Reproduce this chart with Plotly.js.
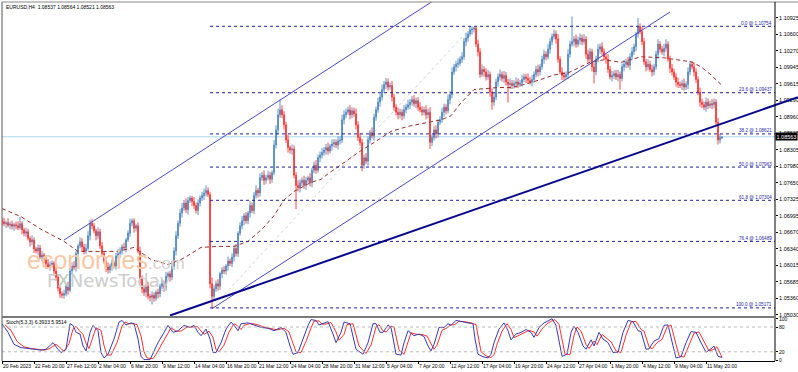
<!DOCTYPE html>
<html><head><meta charset="utf-8">
<script src="https://cdn.plot.ly/plotly-3.0.1.min.js"></script>
<style>html,body{margin:0;padding:0;background:#fff;}#chart{width:798px;height:372px;}</style>
</head><body><div id="chart"></div>
<script>
// ---------- DATA ----------
const headerText = "EURUSD,H4  1.08537 1.08564 1.08521 1.08563";
const stochText = "Stoch(5,3,3) 6.3933 5.9514";
// candle prices in pips above 1.0000 (688 -> 1.0688)
const openPips = [
690,688,684,686,681,683,679,682,680,676,
684,672,665,668,655,648,652,634,630,636,
618,622,612,605,598,602,606,590,578,556,
545,542,545,560,552,590,600,598,625,640,
648,638,630,635,660,685,680,670,660,668,
640,625,610,598,592,600,606,600,620,625,
630,638,636,652,665,685,690,675,680,630,
575,555,548,560,540,538,542,536,548,545,
560,565,558,580,585,578,600,630,660,685,
705,715,725,712,730,735,728,720,710,725,
735,740,745,750,742,565,540,555,565,560,
585,592,590,600,610,605,618,635,625,665,
680,690,700,690,705,720,710,740,750,745,
775,780,770,775,780,772,785,840,870,900,
910,900,880,850,835,830,832,780,760,755,
765,770,760,770,775,765,790,800,790,815,
820,825,830,835,828,838,842,845,840,848,
850,890,900,905,910,900,908,902,880,855,
845,800,815,808,850,865,858,895,910,925,
935,950,960,965,955,958,935,915,905,900,
905,898,910,915,920,925,930,922,928,915,
910,905,910,900,905,845,855,870,862,885,
890,905,915,908,930,940,985,995,1000,1002,
1010,1015,1045,1052,1060,1068,1070,1072,1040,1025,
980,990,985,975,980,945,925,935,965,975,
980,972,978,965,960,962,958,962,965,960,
963,970,975,972,968,965,970,980,990,985,
995,1010,1020,1015,1030,1045,1055,1060,1050,1010,
985,978,975,980,1020,1040,1045,1050,1040,1048,
1052,1045,1050,1020,1010,1025,995,985,1010,1030,
1035,1025,1015,1010,990,975,978,982,975,980,
972,995,1000,1005,998,1015,1025,1035,1060,1075,
1065,1045,1005,995,1000,990,985,995,1020,1040,
1030,1025,1032,1040,1010,992,985,975,965,960,
958,962,955,960,985,1000,995,985,970,945,
925,920,915,925,918,922,920,925,885,850,
853.7];
const closePips = [
688,684,686,681,683,679,682,680,676,684,
672,665,668,655,648,652,634,630,636,618,
622,612,605,598,602,606,590,578,556,545,
542,545,560,552,590,600,598,625,640,648,
638,630,635,660,685,680,670,660,668,640,
625,610,598,592,600,606,600,620,625,630,
638,636,652,665,685,690,675,680,630,575,
555,548,560,540,538,542,536,548,545,560,
565,558,580,585,578,600,630,660,685,705,
715,725,712,730,735,728,720,710,725,735,
740,745,750,742,565,540,555,565,560,585,
592,590,600,610,605,618,635,625,665,680,
690,700,690,705,720,710,740,750,745,775,
780,770,775,780,772,785,840,870,900,910,
900,880,850,835,830,832,780,760,755,765,
770,760,770,775,765,790,800,790,815,820,
825,830,835,828,838,842,845,840,848,850,
890,900,905,910,900,908,902,880,855,845,
800,815,808,850,865,858,895,910,925,935,
950,960,965,955,958,935,915,905,900,905,
898,910,915,920,925,930,922,928,915,910,
905,910,900,905,845,855,870,862,885,890,
905,915,908,930,940,985,995,1000,1002,1010,
1015,1045,1052,1060,1068,1070,1072,1040,1025,980,
990,985,975,980,945,925,935,965,975,980,
972,978,965,960,962,958,962,965,960,963,
970,975,972,968,965,970,980,990,985,995,
1010,1020,1015,1030,1045,1055,1060,1050,1010,985,
978,975,980,1020,1040,1045,1050,1040,1048,1052,
1045,1050,1020,1010,1025,995,985,1010,1030,1035,
1025,1015,1010,990,975,978,982,975,980,972,
995,1000,1005,998,1015,1025,1035,1060,1075,1065,
1045,1005,995,1000,990,985,995,1020,1040,1030,
1025,1032,1040,1010,992,985,975,965,960,958,
962,955,960,985,1000,995,985,970,945,925,
920,915,925,918,922,920,925,885,850,855,
856.3];
// wick lengths (pips) above the body top / below the body bottom
const upperWickPips = [
6,8,4,9,5,7,4,6,9,14, 5,4,8,6,4,9,5,4,7,6, 8,4,6,9,7,5,4,8,6,4, 5,8,4,9,6,7,10,5,4,9,
7,6,9,10,7,8,5,4,9,6, 8,4,6,9,5,7,4,6,9,7, 5,8,4,6,9,4,5,4,7,9, 6,7,4,9,5,8,6,4,7,5,
9,6,8,4,6,10,7,9,5,8, 10,6,9,7,5,4,9,6,7,5, 7,9,10,6,5,12,7,6,9,4, 6,8,4,9,5,7,6,9,4,7,
9,5,7,4,9,6,7,10,5,9, 7,10,6,9,7,5,10,9,12,20, 9,7,6,10,4,9,7,6,10,7, 6,9,7,4,9,5,7,10,6,7,
9,6,7,10,4,9,7,6,9,7, 10,9,7,6,9,7,6,10,7,9, 7,6,9,7,5,10,7,6,9,7, 10,7,8,7,6,9,7,6,9,7,
6,9,7,10,6,7,9,6,7,10, 7,6,9,7,10,6,7,9,6,7, 9,7,6,10,7,9,6,7,10,6, 9,7,10,6,7,5.4,2,3,9,7,
10,6,7,9,6,7,9,6,7,10, 6,9,7,6,10,7,6,9,7,6, 9,7,6,10,7,9,6,7,9,6, 7,9,6,10,7,6,9,7,10,6,
9,7,6,10,7,50,6,9,7,9, 7,10,6,9,7,6,9,7,10,6, 9,7,6,10,7,9,6,7,9,6, 7,9,6,10,7,9,6,4,17,6,
9,7,6,10,7,9,6,7,10,6, 7,9,10,6,7,9,6,7,9,6, 7,10,6,9,7,6,9,7,6,9, 7,6,9,7,6,9,7,6,9,7,
0.1];
const lowerWickPips = [
7,5,9,4,8,6,9,7,5,4, 9,6,7,4,9,6,8,5,9,4, 8,6,9,4,7,5,9,7,6,8, 6,7,5,9,4,7,6,9,7,5,
9,7,6,4,9,7,5,9,7,6, 7,5,10,7,6,9,4,7,5,9, 7,5,9,4,7,6,9,7,5,10, 9,7,10,6,8,14,7,5,9,7,
6,9,7,4,9,6,7,9,6,7, 9,6,7,10,5,9,7,6,9,7, 6,9,7,5,9,22.9,8,6,9,7, 9,6,7,9,5,7,9,6,7,5,
7,9,6,7,9,5,7,6,9,7, 6,9,7,5,9,7,5,7,9,6, 7,9,6,10,7,9,6,47,7,9, 6,7,9,5,7,9,6,7,5,9,
7,6,9,7,5,9,7,6,9,7, 6,9,7,5,9,7,6,9,7,6, 12,7,6,9,7,5,9,7,6,9, 7,6,9,7,5,9,7,6,9,7,
9,6,7,5,9,7,6,9,7,5, 7,6,9,7,13,7,6,9,7,5, 6,9,7,5,9,7,6,9,7,5, 7,6,9,7,5,9,7,6,9,7,
5,9,7,6,9,15,7,6,9,7, 6,9,7,36,9,7,6,9,7,5, 7,6,9,7,5,9,7,6,9,7, 6,9,7,5,9,7,6,9,7,5,
9,7,6,9,7,5,9,7,6,9, 7,6,9,7,5,9,23,7,6,9, 7,6,9,7,5,9,7,6,9,22, 6,9,7,5,9,7,6,9,7,5,
7,6,9,7,5,9,7,6,9,7, 6,9,7,5,9,7,6,9,7,5, 9,7,6,9,7,5,9,7,6,9, 7,6,9,7,5,9,7,6,9,7,
1.6];
const timeLabelBars = [0,16,32,48,64,80,96,112,128,144,160,176,192,208,224,240,256,272,288,304,320,336,352];
const timeLabels = ["20 Feb 2023","22 Feb 20:00","27 Feb 12:00","2 Mar 04:00","6 Mar 20:00","9 Mar 12:00",
  "14 Mar 04:00","16 Mar 20:00","21 Mar 12:00","24 Mar 04:00","28 Mar 20:00","31 Mar 12:00","5 Apr 04:00",
  "7 Apr 20:00","12 Apr 12:00","17 Apr 04:00","19 Apr 20:00","24 Apr 12:00","27 Apr 04:00","1 May 20:00",
  "4 May 12:00","9 May 04:00","11 May 20:00"];
const priceTicks = [1.10925,1.10600,1.10270,1.09945,1.09615,1.09290,1.08960,1.08635,1.08305,1.07980,
  1.07650,1.07325,1.06995,1.06670,1.06340,1.06015,1.05685,1.05360,1.05030];
// moving average (dashed) read at sample bars
const maBars = [0,9.5,19.5,31,38,49.5,58,66,74.5,83,89.5,93,99.5,108,116,123,130.5,136,141,146,154.5,159.5,163,171,178,186,194.5,
  203,213,219.5,224.5,229.5,236,241,248,254.5,261,269.5,276,283,289.5,294.5,301,309.5,319.5,331,344.5,349.5,354.5,359.5];
const maPrices = [1.0714,1.0698,1.0673,1.0649,1.0629,1.0629,1.0629,1.0637,1.0613,1.0603,1.0613,1.0621,1.0637,1.0639,1.0639,
  1.0649,1.0675,1.0700,1.0731,1.0748,1.0766,1.0772,1.0783,1.0805,1.0825,1.0845,1.0867,1.0877,1.0884,1.0890,1.0898,1.0924,1.0950,1.0952,
  1.0954,1.0954,1.0960,1.0970,1.0979,1.0983,1.0995,1.1005,1.1009,1.1004,1.1015,1.1013,1.1005,1.0995,1.0979,1.0960];
// stochastic %K (blue) and %D (red)
const stochKBars = [0,3,6,9.5,13,16,19.5,22,24,25.5, 28,29.5,32,34,35.5,37,39,40.5,42,44, 45.5,48,49.5,51,53,56,58.5,60,62,64.5,
  66,68,69.5,71,74,75.5,78,81,83,85.5, 88,91,94,96,98,99.5,102,104,105.5,107, 109.5,112,114.5,116,118,119.5,123,126,129.5,133,
  136,139.5,142,144,145.5,148,150.5,153,154.5,157, 158.5,160.5,163,165.5,167,169.5,171,174,175.5,177, 180.5,183,185.5,187,189,190.5,193,194.5,197,199.5,
  201,203,206,208.5,211,213,214.5,216,218.5,221, 223,224.5,227,229.5,233,235.5,236.5,238,240.5,243, 244.5,246,248.5,251,253,254.5,257,259.5,262,264.5,
  266,268.5,271,273.5,275,277,278.5,280,282.5,284.5, 286,288,290.5,292,294.5,296,298.5,300.5,303,305.5, 308,310.5,313,315.5,318,319.5,322,323.5,326,328.5,
  331,333,335.5,337,339.5,342,344.5,347,349.5,352, 354.5,356,358,360];
const stochK = [88,67,38,30,28,26,24,26,34,42, 26,18,26,88,84,67,63,34,22,67, 84,71,18,5,14,51,92,96,85,90,
  88,51,9,1,1,18,42,67,84,67, 71,84,79,84,67,59,75,51,18,18, 42,75,92,84,71,88,90,85,79,77,
  71,79,67,34,14,18,51,84,98,96, 85,88,93,63,42,67,92,88,59,26, 14,42,88,88,67,67,85,79,14,12,
  42,71,59,63,57,34,22,38,79,79, 88,84,96,93,90,88,51,14,8,5, 14,42,75,90,71,49,63,67,74,67,
  55,79,90,96,100,84,42,9,14,67, 82,67,34,26,49,34,67,51,42,18, 19,67,96,93,71,69,26,27,46,52,
  84,85,34,5,8,42,69,67,42,19, 27,34,9,6.3933];
const stochDBars = [1.5,4.5,7.5,11,14.5,17.5,21,23.5,25.5,27, 29.5,31,33.5,35.5,37,38.5,40.5,42,43.5,45.5,
  47,49.5,51,52.5,54.5,57.5,60,61.5,63.5,66, 67.5,69.5,71,72.5,75.5,77,79.5,82.5,84.5,87, 89.5,92.5,95.5,97.5,99.5,101,103.5,105.5,107,108.5,
  111,113.5,116,117.5,119.5,121,124.5,127.5,131,134.5, 137.5,141,143.5,145.5,147,149.5,152,154.5,156,158.5, 160,162,164.5,167,168.5,171,172.5,175.5,177,178.5,
  182,184.5,187,188.5,190.5,192,194.5,196,198.5,201, 202.5,204.5,207.5,210,212.5,214.5,216,217.5,220,222.5, 224.5,226,228.5,231,234.5,237,238,239.5,242,244.5,
  246,247.5,250,252.5,254.5,256,258.5,261,263.5,266, 267.5,270,272.5,275,276.5,278.5,280,281.5,284,286, 287.5,289.5,292,293.5,296,297.5,300,302,304.5,307,
  309.5,312,314.5,317,319.5,321,323.5,325,327.5,330, 332.5,334.5,337,338.5,341,343.5,346,348.5,351,353.5, 356,357.5,359.5,360];
const stochD = [85,72,45,32,28,26,24,27,33,38, 28,20,40,75,82,72,62,40,28,58, 78,72,35,12,12,42,82,92,88,88,
  86,58,20,5,3,14,36,60,78,70, 70,80,80,82,70,62,70,55,25,20, 36,68,88,84,74,84,89,86,80,77, 73,77,68,40,20,18,45,78,94,95,
  87,87,91,68,48,62,86,88,64,34, 16,36,80,86,70,68,82,80,24,14, 36,66,62,62,58,38,26,36,72,78, 86,85,94,93,90,86,56,20,10,6,
  13,38,70,88,74,54,60,66,72,68, 58,75,88,95,98,86,48,14,13,60, 80,70,38,28,46,37,62,53,44,22, 18,60,92,94,74,70,32,27,42,50,
  80,85,40,10,7,36,65,68,46,22, 26,32,12,5.9514];
const stochLevels = [20, 80];
const stochTicks = [0, 20, 80, 100];
// Fibonacci retracement
const fibLevelNames = ["0.0","23.6","38.2","50.0","61.8","76.4","100.0"];
const fibPrices = [1.10754,1.09437,1.08621,1.07963,1.07304,1.06489,1.05171];
const fibStartBar = 104;
const fibDiagonal = {bars:[105,235], prices:[1.05171,1.10754]};
// drawn lines
const channelUpper = {bars:[31,230], prices:[1.06517,1.11629]};
const channelLower = {bars:[105,334], prices:[1.05155,1.11038]};
const trendLine = {bars:[84,398], prices:[1.0502,1.0935]};
const bidPrice = 1.08563;

// ---------- BUILD ----------
const toPrice = p => 1 + p / 10000;
const bars = closePips.map((_, i) => i);
const O = openPips.map(toPrice), C = closePips.map(toPrice);
const Hh = bars.map(i => toPrice(Math.max(openPips[i], closePips[i]) + upperWickPips[i]));
const Ll = bars.map(i => toPrice(Math.min(openPips[i], closePips[i]) - lowerWickPips[i]));

const FONT = "Liberation Sans, Arial, sans-serif";
const axisX = 0.97111;   // price-scale line position (paper)
const leftBar = -0.01;
const lastBarRight = 386.49;

const traces = [
  {type:'candlestick', x:bars, open:O, high:Hh, low:Ll, close:C, xaxis:'x', yaxis:'y',
   increasing:{line:{color:'#3A78B8', width:0.8}, fillcolor:'#3A78B8'},
   decreasing:{line:{color:'#FF1A1A', width:0.8}, fillcolor:'#FF1A1A'},
   whiskerwidth:0, hoverinfo:'skip', showlegend:false},
  {type:'scatter', mode:'lines', x:maBars, y:maPrices, xaxis:'x', yaxis:'y',
   line:{color:'#9B2C2C', width:1, dash:'4px,3px'}, hoverinfo:'skip', showlegend:false},
  {type:'scatter', mode:'lines', x:stochDBars, y:stochD, xaxis:'x2', yaxis:'y2',
   line:{color:'#FF3030', width:1}, hoverinfo:'skip', showlegend:false},
  {type:'scatter', mode:'lines', x:stochKBars, y:stochK, xaxis:'x2', yaxis:'y2',
   line:{color:'#3A3AAE', width:1}, hoverinfo:'skip', showlegend:false}
];

const shapes = [];
shapes.push({type:'line', xref:'x', yref:'y', x0:leftBar, x1:lastBarRight, y0:bidPrice, y1:bidPrice, line:{color:'#A9D6EE', width:1}, layer:'below'});
shapes.push({type:'line', xref:'x', yref:'y', x0:fibDiagonal.bars[0], x1:fibDiagonal.bars[1], y0:fibDiagonal.prices[0], y1:fibDiagonal.prices[1], line:{color:'#D4D4D4', width:1, dash:'dot'}, layer:'below'});
fibPrices.forEach(p => shapes.push({type:'line', xref:'x', yref:'y', x0:fibStartBar, x1:lastBarRight, y0:p, y1:p, line:{color:'#1E1E9E', width:1, dash:'dot'}}));
[channelUpper, channelLower].forEach(c => shapes.push({type:'line', xref:'x', yref:'y', x0:c.bars[0], x1:c.bars[1], y0:c.prices[0], y1:c.prices[1], line:{color:'#4A4AC0', width:1}}));
shapes.push({type:'line', xref:'x', yref:'y', x0:trendLine.bars[0], x1:trendLine.bars[1], y0:trendLine.prices[0], y1:trendLine.prices[1], line:{color:'#06068E', width:2}});
stochLevels.forEach(v => shapes.push({type:'line', xref:'x2', yref:'y2', x0:leftBar, x1:lastBarRight, y0:v, y1:v, line:{color:'#BDBDBD', width:1, dash:'dot'}}));
shapes.push({type:'line', xref:'paper', yref:'paper', x0:0, x1:0, y0:0, y1:1, line:{color:'#555', width:1}});
shapes.push({type:'line', xref:'paper', yref:'paper', x0:0, x1:1, y0:1, y1:1, line:{color:'#888', width:1}});
shapes.push({type:'line', xref:'paper', yref:'paper', x0:axisX, x1:axisX, y0:0, y1:1, line:{color:'#000', width:1}});
shapes.push({type:'rect', xref:'paper', yref:'paper', x0:0, x1:axisX, y0:0.11978, y1:0.12535, fillcolor:'#7A7A7A', line:{width:0}});

const annotations = [];
annotations.push({xref:'paper', yref:'paper', x:0.0025, y:0.986, xanchor:'left', yanchor:'middle', text:headerText, showarrow:false, font:{family:FONT, size:5, color:'#000'}});
annotations.push({xref:'paper', yref:'paper', x:0.0025, y:0.108, xanchor:'left', yanchor:'middle', text:stochText, showarrow:false, font:{family:FONT, size:5, color:'#000'}});
fibPrices.forEach((p, i) => annotations.push({xref:'x', yref:'y', x:386, y:p, xanchor:'right', yanchor:'middle', yshift:3,
  text:fibLevelNames[i] + ' @ ' + p.toFixed(5), showarrow:false, font:{family:FONT, size:4.6, color:'#1E1E9E'}}));
annotations.push({xref:'paper', yref:'y', x:1, y:bidPrice, xanchor:'right', yanchor:'middle', text:bidPrice.toFixed(5), showarrow:false,
  bgcolor:'#000', borderpad:0.5, font:{family:FONT, size:5.5, color:'#fff'}});
annotations.push({xref:'paper', yref:'paper', x:0.029, y:0.28, xanchor:'left', yanchor:'middle', showarrow:false,
  text:'<span style="color:#F8C9A6">economies</span><span style="color:#DCCFCF;font-size:17px">.com</span>', font:{family:FONT, size:25, color:'#F8C9A6'}});
annotations.push({xref:'paper', yref:'paper', x:0.054, y:0.223, xanchor:'left', yanchor:'middle', showarrow:false,
  text:'F<span style="color:#B9CDB9">X</span>NewsToday', font:{family:'DejaVu Sans, sans-serif', size:18, color:'#CDCDCD'}});

const layout = {
  width:798, height:372, margin:{l:2, r:0, t:2, b:11},
  paper_bgcolor:'#fff', plot_bgcolor:'#fff', showlegend:false, hovermode:false,
  boxgap:0.55,
  xaxis:{domain:[0,1], range:[leftBar, leftBar + 398], showticklabels:false, showgrid:false, zeroline:false, showline:false, ticks:'', rangeslider:{visible:false}, fixedrange:true},
  yaxis:{domain:[0.12535,1], range:[1.0501,1.11236], anchor:'free', position:axisX, side:'right',
    tickmode:'array', tickvals:priceTicks, ticktext:priceTicks.map(v => v.toFixed(5)),
    ticks:'outside', ticklen:2, tickcolor:'#000', showgrid:false, zeroline:false, showline:false,
    tickfont:{family:FONT, size:5.5, color:'#000'}},
  xaxis2:{domain:[0,axisX], range:[leftBar,lastBarRight], anchor:'y2', tickmode:'array', tickvals:timeLabelBars, ticktext:timeLabels,
    tickangle:0, ticks:'outside', ticklen:2, tickcolor:'#000', ticklabelposition:'outside right', ticklabelstandoff:0,
    showgrid:false, zeroline:false, showline:true, linecolor:'#000', linewidth:1, tickfont:{family:FONT, size:5, color:'#000'}},
  yaxis2:{domain:[0,0.11978], range:[-2.4,101.9], anchor:'x2', side:'right', tickmode:'array', tickvals:stochTicks,
    ticktext:stochTicks.map(String), ticks:'outside', ticklen:2, tickcolor:'#000', showgrid:false, zeroline:false, showline:false,
    tickfont:{family:FONT, size:5, color:'#000'}},
  shapes:shapes, annotations:annotations
};
Plotly.newPlot('chart', traces, layout, {staticPlot:true, displayModeBar:false});
</script>
</body></html>
